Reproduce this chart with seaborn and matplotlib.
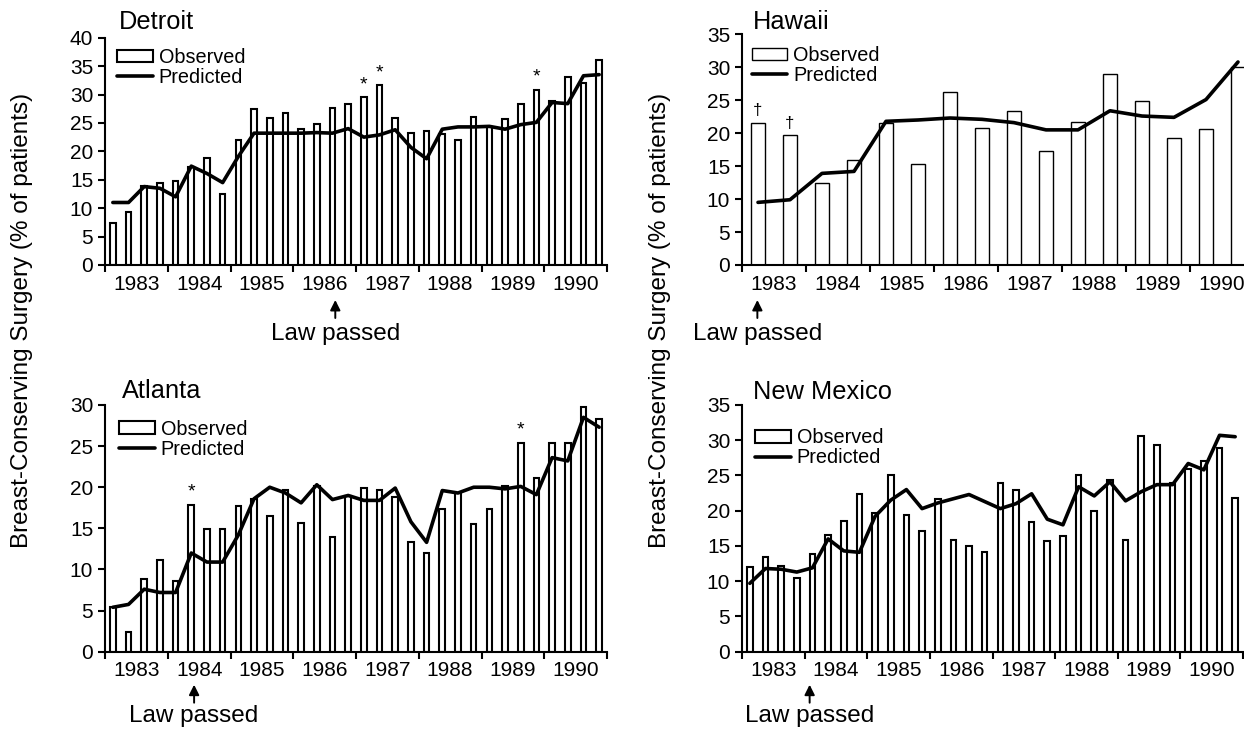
"""Breast-conserving surgery before/after state laws: observed vs predicted"""

import matplotlib
matplotlib.use('Agg')
import matplotlib.pyplot as plt
from matplotlib.patches import Patch
from matplotlib.lines import Line2D
import numpy as np
import seaborn as sns

W, H = 1244, 729

# time periods
quarters = 1983.125 + 0.25 * np.arange(32)   # quarter midpoints 1983-1990
halves = 1983.25 + 0.5 * np.arange(16)       # half-year midpoints (Hawaii)
year_edges = np.arange(1983, 1992)
year_mids = np.arange(1983, 1991) + 0.5
year_labels = [str(y) for y in range(1983, 1991)]

# Detroit (quarterly)
detroit_obs = [7.4, 9.3, 13.9, 14.5, 14.7, 17.3, 18.9, 12.5,
               22.0, 27.4, 25.9, 26.7, 24.0, 24.9, 27.6, 28.4,
               29.5, 31.6, 25.8, 23.2, 23.6, 23.0, 22.0, 26.1,
               24.3, 25.7, 28.4, 30.8, 28.9, 33.1, 32.0, 36.1]
detroit_pred = [11.0, 11.0, 13.8, 13.5, 12.0, 17.4, 16.1, 14.5,
                19.1, 23.2, 23.2, 23.2, 23.2, 23.3, 23.2, 24.0,
                22.5, 22.9, 23.8, 20.7, 18.7, 23.9, 24.3, 24.3,
                24.4, 23.9, 24.7, 25.1, 28.6, 28.4, 33.3, 33.5]
detroit_sig = [16, 17, 27]

# Hawaii (half-yearly)
hawaii_obs = [21.6, 19.7, 12.5, 15.9, 21.6, 15.3, 26.3, 20.8,
              23.4, 17.3, 21.7, 29.0, 24.9, 19.2, 20.7, 30.0]
hawaii_pred = [9.5, 9.9, 13.9, 14.2, 21.8, 22.0, 22.3, 22.1,
               21.6, 20.5, 20.5, 23.4, 22.6, 22.4, 25.1, 30.8]
hawaii_sig = [0, 1]

# Atlanta (quarterly)
atlanta_obs = [5.4, 2.4, 8.8, 11.1, 8.6, 17.9, 14.9, 14.9,
               17.7, 18.6, 16.5, 19.7, 15.7, 20.1, 14.0, 18.9,
               19.9, 19.7, 18.8, 13.3, 12.0, 17.4, 19.3, 15.5,
               17.3, 20.1, 25.4, 21.1, 25.4, 25.4, 29.7, 28.3]
atlanta_pred = [5.4, 5.75, 7.6, 7.2, 7.2, 12.0, 10.9, 10.9,
                14.2, 18.6, 20.0, 19.3, 18.1, 20.3, 18.5, 19.0,
                18.4, 18.4, 19.9, 15.8, 13.3, 19.6, 19.3, 20.0,
                20.0, 19.8, 20.1, 19.1, 23.6, 23.2, 28.5, 27.3]
atlanta_sig = [5, 26]

# New Mexico (quarterly)
nm_obs = [12.0, 13.5, 12.1, 10.5, 13.8, 16.5, 18.6, 22.4,
          19.7, 25.1, 19.4, 17.1, 21.7, 15.9, 15.0, 14.1,
          24.0, 22.9, 18.4, 15.7, 16.4, 25.0, 20.0, 24.4,
          15.8, 30.6, 29.3, 23.9, 25.9, 27.0, 28.9, 21.8]
nm_pred = [9.7, 11.8, 11.7, 11.3, 11.9, 16.0, 14.3, 14.1,
           19.2, 21.5, 23.0, 20.3, 21.1, 21.7, 22.3, 21.3,
           20.3, 21.0, 22.4, 18.8, 18.0, 23.4, 22.1, 24.1,
           21.4, 22.7, 23.7, 23.7, 26.7, 25.8, 30.7, 30.5]

YLABEL = 'Breast-Conserving Surgery (% of patients)'


def px_rect(left, top, right, bottom):
    """Axes rectangle from pixel edges"""
    return [left / W, 1 - bottom / H, (right - left) / W, (bottom - top) / H]


def draw_panel(fig, rect, x, obs, pred, title, ytop, bar_width, edge_lw,
               title_dx, title_dy, leg_anchor, law_x, law_dy=(35, 53, 75),
               sig=(), sig_char='*', sig_size=14):
    ax = fig.add_axes(px_rect(*rect))
    ax_w = rect[2] - rect[0]
    ax_h = rect[3] - rect[1]

    sns.barplot(x=x, y=obs, native_scale=True, width=bar_width, color='white',
                saturation=1, edgecolor='black', linewidth=edge_lw,
                errorbar=None, ax=ax)
    sns.lineplot(x=x, y=pred, color='black', linewidth=2.6, ax=ax)

    ax.set_xlim(1983, 1991)
    ax.set_ylim(0, ytop)
    ax.set_yticks(np.arange(0, ytop + 1, 5))
    ax.set_xticks(year_edges)
    ax.set_xticklabels([])
    ax.set_xticks(year_mids, minor=True)
    ax.set_xticklabels(year_labels, minor=True)
    ax.tick_params(axis='both', which='major', direction='out', length=5,
                   width=1.5, labelsize=15, color='black')
    ax.tick_params(axis='x', which='minor', length=0, pad=7, labelsize=15)
    ax.set_xlabel('')
    ax.set_ylabel('')
    sns.despine(ax=ax)
    for s in ('left', 'bottom'):
        ax.spines[s].set_linewidth(1.5)
        ax.spines[s].set_color('black')

    # title
    ax.text(title_dx / ax_w, 1 + title_dy / ax_h, title, transform=ax.transAxes,
            ha='left', va='baseline', fontsize=18.3)

    # legend
    handles = [Patch(facecolor='white', edgecolor='black', linewidth=edge_lw,
                     label='Observed'),
               Line2D([], [], color='black', lw=2.6, label='Predicted')]
    ax.legend(handles=handles, loc='upper left', bbox_to_anchor=leg_anchor,
              frameon=False, fontsize=14.3, borderpad=0, borderaxespad=0,
              handlelength=1.8, handletextpad=0.3, labelspacing=0.05,
              handleheight=0.6)

    # significance marks
    for i in sig:
        ax.annotate(sig_char, xy=(x[i], obs[i]), xytext=(0, 3),
                    textcoords='offset points', ha='center', va='bottom',
                    fontsize=sig_size)

    # law passed arrow
    tip, tail, base = law_dy
    tr = ax.get_xaxis_transform()
    ax.annotate('', xy=(law_x, -tip / ax_h), xytext=(law_x, -tail / ax_h),
                xycoords=tr, textcoords=tr, annotation_clip=False,
                arrowprops=dict(arrowstyle='-|>,head_length=0.5,head_width=0.25',
                                color='black', lw=1.4, shrinkA=0, shrinkB=0))
    ax.text(law_x, -base / ax_h, 'Law passed', transform=tr, ha='center',
            va='baseline', fontsize=17.5, clip_on=False)
    return ax


sns.set_theme(style='ticks', rc={'axes.edgecolor': 'black', 'text.color': 'black',
                                 'xtick.color': 'black', 'ytick.color': 'black',
                                 'axes.labelcolor': 'black'})
plt.rcParams['font.family'] = ['Liberation Sans', 'DejaVu Sans']

fig = plt.figure(figsize=(W / 100, H / 100), dpi=100)

draw_panel(fig, (105, 37.7, 607, 265), quarters, detroit_obs, detroit_pred,
           'Detroit', 40, 0.36, 1.5, 14, 8.4, (0.024, 0.955), 1986.67,
           sig=detroit_sig)
draw_panel(fig, (742, 34.3, 1254, 265), halves, hawaii_obs, hawaii_pred,
           'Hawaii', 35, 0.415, 1.0, 11, 5.5, (0.019, 0.95), 1983.24,
           sig=hawaii_sig, sig_char='\u2020', sig_size=12)
draw_panel(fig, (105, 405, 607, 651.7), quarters, atlanta_obs, atlanta_pred,
           'Atlanta', 30, 0.36, 1.5, 17, 7, (0.028, 0.94), 1984.42,
           law_dy=(33, 51, 70), sig=atlanta_sig)
draw_panel(fig, (742, 405, 1243, 651.7), quarters, nm_obs, nm_pred,
           'New Mexico', 35, 0.36, 1.5, 11, 5.7, (0.026, 0.905), 1984.08,
           law_dy=(33, 51, 70))

fig.text(22 / W, 1 - 320 / H, YLABEL, rotation=90, ha='center', va='center',
         fontsize=17.5)
fig.text(660 / W, 1 - 320 / H, YLABEL, rotation=90, ha='center', va='center',
         fontsize=17.5)

fig.savefig('out.png', dpi=100)
